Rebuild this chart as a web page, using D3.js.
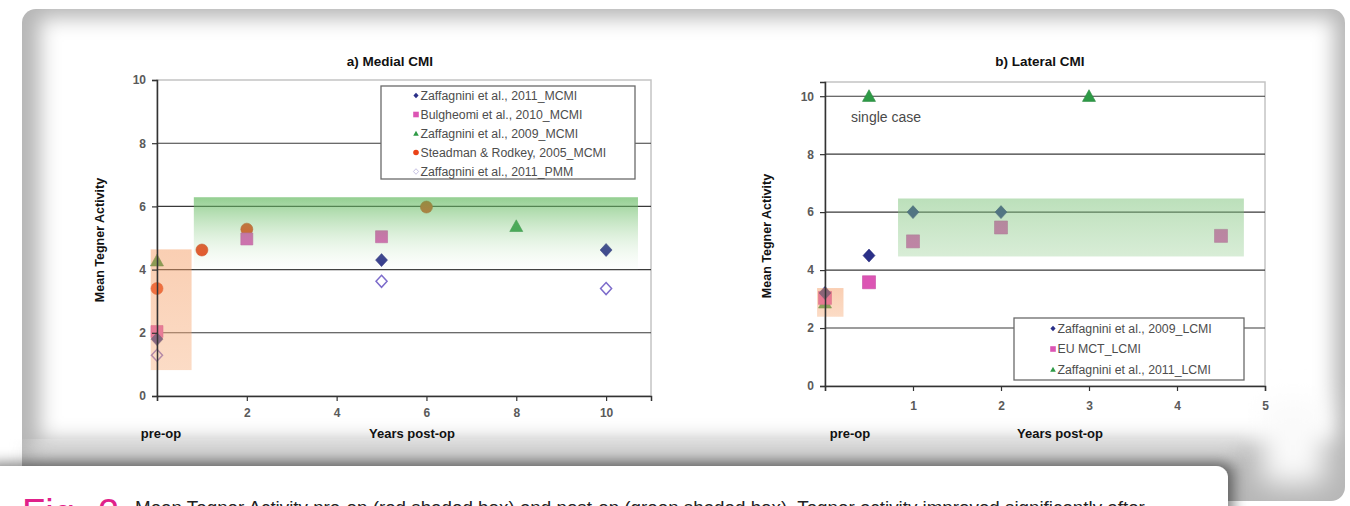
<!DOCTYPE html>
<html>
<head>
<meta charset="utf-8">
<script src="https://cdn.jsdelivr.net/npm/d3@7"></script>
<style>
  html, body { margin: 0; padding: 0; background: #ffffff; }
  svg { display: block; }
  text { font-family: "Liberation Sans", Arial, sans-serif; }
</style>
</head>
<body>
<script>
// ---- Medial CMI series: [years post-op, mean Tegner activity] ----
const zaffagnini2011MCMI = [[0, 1.8], [5, 4.3], [10, 4.62]];
const bulgheroni2010MCMI = [[0, 2.04], [2, 4.97], [5, 5.04]];
const zaffagnini2009MCMI = [[0, 4.28], [8, 5.37]];
const steadman2005MCMI   = [[0, 3.4], [1, 4.62], [2, 5.28], [6, 5.98]];
const zaffagnini2011PMM  = [[0, 1.29], [5, 3.63], [10, 3.4]];
const medialLegend = ["Zaffagnini et al., 2011_MCMI", "Bulgheomi et al., 2010_MCMI",
  "Zaffagnini et al., 2009_MCMI", "Steadman & Rodkey, 2005_MCMI", "Zaffagnini et al., 2011_PMM"];

// ---- Lateral CMI series ----
const zaffagnini2009LCMI = [[0, 3.21], [0.5, 4.5], [1, 6.0], [2, 6.0]];
const euMCTLCMI          = [[0, 3.04], [0.5, 3.58], [1, 4.99], [2, 5.47], [4.5, 5.18]];
const zaffagnini2011LCMI = [[0, 2.87], [0.5, 10], [3, 10]];
const lateralLegend = ["Zaffagnini et al., 2009_LCMI", "EU MCT_LCMI", "Zaffagnini et al., 2011_LCMI"];

// ---- axes ----
const medialXTicks = [0, 2, 4, 6, 8, 10];
const medialYTicks = [0, 2, 4, 6, 8, 10];
const lateralXTicks = [0, 1, 2, 3, 4, 5];
const lateralYTicks = [0, 2, 4, 6, 8, 10];

// ---- shaded ranges: [x0, x1, y0, y1] ----
const medialPreBox  = [-0.14, 0.77, 0.82, 4.64];
const medialPostBox = [0.82, 10.71, 3.99, 6.29];
const lateralPreBox  = [-0.09, 0.21, 2.39, 3.38];
const lateralPostBox = [0.83, 4.76, 4.47, 6.47];

const caption = "Mean Tegner Activity pre-op (red shaded box) and post-op (green shaded box). Tegner activity improved significantly after";

const COL = { navy: "#2a2f88", pink: "#dc55b4", green: "#2e9a46", red: "#ea4318", open: "#7d6ccb" };

const svg = d3.select("body").append("svg").attr("width", 1350).attr("height", 506);
const defs = svg.append("defs");

defs.append("filter").attr("id", "soft").attr("x", "-10%").attr("y", "-10%").attr("width", "120%").attr("height", "120%")
  .append("feGaussianBlur").attr("stdDeviation", 10);
defs.append("filter").attr("id", "soft2").attr("x", "-50%").attr("y", "-50%").attr("width", "200%").attr("height", "200%")
  .append("feGaussianBlur").attr("stdDeviation", 14);
const sh = defs.append("filter").attr("id", "cardShadow").attr("x", "-10%").attr("y", "-60%").attr("width", "120%").attr("height", "220%");
sh.append("feDropShadow").attr("dx", 5).attr("dy", -3).attr("stdDeviation", 7)
  .attr("flood-color", "#000").attr("flood-opacity", 0.5);

function vgrad(id, stops) {
  const g = defs.append("linearGradient").attr("id", id).attr("x1", 0).attr("y1", 0).attr("x2", 0).attr("y2", 1);
  stops.forEach(s => g.append("stop").attr("offset", s[0]).attr("stop-color", s[1]).attr("stop-opacity", s[2]));
}
vgrad("greenA", [[0, "#5cb658", 0.66], [0.5, "#86ca82", 0.3], [1, "#d9f0d6", 0.05]]);
vgrad("greenB", [[0, "#78c075", 0.5], [1, "#98cf94", 0.38]]);
vgrad("orangeA", [[0, "#f49a60", 0.48], [1, "#f7b07f", 0.45]]);
vgrad("band", [[0, "#ffffff", 1], [1, "#a6a6a6", 1]]);

// ---- page card ----
svg.append("rect").attr("x", 22).attr("y", 9).attr("width", 1323).attr("height", 492).attr("rx", 14)
  .attr("fill", "#b6b6b6");
svg.append("rect").attr("x", 40).attr("y", 18).attr("width", 1294).attr("height", 422)
  .attr("fill", "#ffffff").attr("filter", "url(#soft)");
svg.append("rect").attr("x", 30).attr("y", 442).attr("width", 1210).attr("height", 24)
  .attr("fill", "url(#band)").attr("opacity", 0.9).attr("filter", "url(#soft)");
svg.append("rect").attr("x", 1262).attr("y", 400).attr("width", 62).attr("height", 84)
  .attr("fill", "#fafafa").attr("filter", "url(#soft2)");

// ---- marker shapes ----
function shape(kind, r) {
  const p = d3.path();
  if (kind === "diamond" || kind === "openDiamond") {
    p.moveTo(0, -r); p.lineTo(r * 0.92, 0); p.lineTo(0, r); p.lineTo(-r * 0.92, 0); p.closePath();
  } else if (kind === "square") {
    p.rect(-r, -r, 2 * r, 2 * r);
  } else if (kind === "triangle") {
    p.moveTo(0, -r); p.lineTo(r, r * 0.8); p.lineTo(-r, r * 0.8); p.closePath();
  } else {
    p.arc(0, 0, r, 0, 2 * Math.PI);
  }
  return p.toString();
}

function drawMarks(g, x, y, data, kind, color, r) {
  g.selectAll(null).data(data).enter().append("path")
    .attr("transform", d => `translate(${x(d[0])},${y(d[1])})`)
    .attr("d", shape(kind, r))
    .attr("fill", kind === "openDiamond" ? "#ffffff" : color)
    .attr("stroke", kind === "openDiamond" ? color : d3.color(color).darker(0.3))
    .attr("stroke-width", kind === "openDiamond" ? 1.5 : 0.6);
}

function drawPanel(cfg) {
  const { x, y, xTicks, yTicks, title, titleX, yTitleX, preX, postX, series, boxes, legend } = cfg;
  const g = svg.append("g");
  const [x0, x1] = x.range();
  const [yb, yt] = y.range();

  // plot frame
  g.append("rect").attr("x", x0).attr("y", yt).attr("width", x1 - x0).attr("height", yb - yt)
    .attr("fill", "#ffffff").attr("stroke", "#c4c4c4").attr("stroke-width", 1.5);

  // gridlines
  g.selectAll(null).data(yTicks.filter(t => t > 0 && (cfg.gridTop || t < 10))).enter().append("line")
    .attr("x1", x0).attr("x2", x1).attr("y1", d => y(d)).attr("y2", d => y(d))
    .attr("stroke", "#3a3a3a").attr("stroke-width", 1.1);

  // markers
  series.forEach(s => drawMarks(g, x, y, s.data, s.kind, s.color, s.r));

  // shaded ranges on top of the markers
  boxes.forEach(b => {
    g.append("rect").attr("x", x(b.r[0])).attr("y", y(b.r[3]))
      .attr("width", x(b.r[1]) - x(b.r[0])).attr("height", y(b.r[2]) - y(b.r[3]))
      .attr("fill", b.fill);
  });

  // axes
  const yAxis = d3.axisLeft(y).tickValues(yTicks).tickSize(5).tickPadding(6).tickFormat(d3.format("d"));
  const ya = g.append("g").attr("transform", `translate(${x0},0)`).call(yAxis);
  const xAxis = d3.axisBottom(x).tickValues(xTicks).tickSize(5).tickPadding(cfg.xPad)
    .tickFormat(d => d === 0 ? "" : d);
  const xa = g.append("g").attr("transform", `translate(0,${yb})`).call(xAxis);
  [ya, xa].forEach(a => {
    a.select(".domain").attr("stroke", "#333").attr("stroke-width", 1.5);
    a.selectAll(".tick line").attr("stroke", "#333").attr("stroke-width", 1.2);
    a.selectAll(".tick text").attr("fill", "#5a5a5a").attr("font-size", 12)
      .attr("font-family", "'Liberation Sans', Arial, sans-serif").attr("font-weight", "bold");
  });

  // titles
  g.append("text").attr("x", titleX).attr("y", 66).attr("text-anchor", "middle")
    .attr("font-size", 13.5).attr("font-weight", "bold").attr("fill", "#111").text(title);
  g.append("text").attr("transform", `translate(${yTitleX},${(yb + yt) / 2 + 2}) rotate(-90)`)
    .attr("text-anchor", "middle").attr("font-size", 12.5).attr("font-weight", "bold").attr("fill", "#111")
    .text("Mean Tegner Activity");
  g.append("text").attr("x", preX).attr("y", 438).attr("text-anchor", "middle")
    .attr("font-size", 13).attr("font-weight", "bold").attr("fill", "#111").text("pre-op");
  g.append("text").attr("x", postX).attr("y", 438).attr("text-anchor", "middle")
    .attr("font-size", 13).attr("font-weight", "bold").attr("fill", "#111").text("Years post-op");

  // legend
  const L = legend;
  g.append("rect").attr("x", L.x).attr("y", L.y).attr("width", L.w).attr("height", L.h)
    .attr("fill", "#ffffff").attr("stroke", "#6a6a6a").attr("stroke-width", 1.3);
  L.items.forEach((it, i) => {
    const cy = L.y + L.first + i * L.step;
    g.append("path").attr("transform", `translate(${L.x + L.mx},${cy})`)
      .attr("d", shape(it.kind, 2.8))
      .attr("fill", it.kind === "openDiamond" ? "#fff" : it.color)
      .attr("stroke", it.kind === "openDiamond" ? "#b9b2dc" : "none").attr("stroke-width", 0.8);
    g.append("text").attr("x", L.x + L.mx + 4.5).attr("y", cy + 4)
      .attr("font-size", 12.3).attr("fill", "#4d4d4d").text(it.label);
  });
  return g;
}

// ---- a) Medial CMI ----
const xA = d3.scaleLinear().domain([0, 11]).range([157, 651]);
const yA = d3.scaleLinear().domain([0, 10]).range([396, 80]);
drawPanel({
  x: xA, y: yA, xTicks: medialXTicks, yTicks: medialYTicks, xPad: 7,
  title: "a) Medial CMI", titleX: 390, yTitleX: 104, preX: 161, postX: 412, gridTop: false,
  series: [
    { data: zaffagnini2009MCMI, kind: "triangle", color: COL.green, r: 6.5 },
    { data: steadman2005MCMI, kind: "circle", color: COL.red, r: 6 },
    { data: bulgheroni2010MCMI, kind: "square", color: COL.pink, r: 6 },
    { data: zaffagnini2011MCMI, kind: "diamond", color: COL.navy, r: 6.5 },
    { data: zaffagnini2011PMM, kind: "openDiamond", color: COL.open, r: 6 }
  ],
  boxes: [
    { r: medialPreBox, fill: "url(#orangeA)" },
    { r: medialPostBox, fill: "url(#greenA)" }
  ],
  legend: {
    x: 381, y: 86, w: 254, h: 93, first: 9.5, step: 19, mx: 35,
    items: [
      { kind: "diamond", color: COL.navy, label: medialLegend[0] },
      { kind: "square", color: COL.pink, label: medialLegend[1] },
      { kind: "triangle", color: COL.green, label: medialLegend[2] },
      { kind: "circle", color: COL.red, label: medialLegend[3] },
      { kind: "openDiamond", color: COL.open, label: medialLegend[4] }
    ]
  }
});

// ---- b) Lateral CMI ----
const xB = d3.scaleLinear().domain([0, 5]).range([825, 1265]);
const yB = d3.scaleLinear().domain([0, 10.49]).range([386, 82]);
const gB = drawPanel({
  x: xB, y: yB, xTicks: lateralXTicks, yTicks: lateralYTicks, xPad: 10,
  title: "b) Lateral CMI", titleX: 1040, yTitleX: 771, preX: 850, postX: 1060, gridTop: true,
  series: [
    { data: zaffagnini2011LCMI, kind: "triangle", color: COL.green, r: 6.5 },
    { data: euMCTLCMI, kind: "square", color: COL.pink, r: 6.5 },
    { data: zaffagnini2009LCMI, kind: "diamond", color: COL.navy, r: 6.5 }
  ],
  boxes: [
    { r: lateralPreBox, fill: "url(#orangeA)" },
    { r: lateralPostBox, fill: "url(#greenB)" }
  ],
  legend: {
    x: 1014, y: 318, w: 230, h: 62, first: 10.5, step: 20.5, mx: 39,
    items: [
      { kind: "diamond", color: COL.navy, label: lateralLegend[0] },
      { kind: "square", color: COL.pink, label: lateralLegend[1] },
      { kind: "triangle", color: COL.green, label: lateralLegend[2] }
    ]
  }
});
gB.append("text").attr("x", 851).attr("y", yB(9.1)).attr("font-size", 14).attr("fill", "#4a4a4a")
  .text("single case");

// ---- caption card ----
const cap = svg.append("g");
cap.append("rect").attr("x", -20).attr("y", 466).attr("width", 1248).attr("height", 80).attr("rx", 12)
  .attr("fill", "#ffffff").attr("filter", "url(#cardShadow)");
cap.append("text").attr("x", 22).attr("y", 526).attr("font-family", "Lato, 'Open Sans', sans-serif")
  .attr("font-size", 38).attr("fill", "#e0218a").text("Fig");
cap.append("text").attr("x", 98).attr("y", 526).attr("font-family", "Lato, 'Open Sans', sans-serif")
  .attr("font-size", 38).attr("fill", "#e0218a").text("2");
cap.append("text").attr("x", 135).attr("y", 514).attr("font-family", "Lato, 'Open Sans', sans-serif")
  .attr("font-size", 18.8).attr("fill", "#222").text(caption);
</script>
</body>
</html>
